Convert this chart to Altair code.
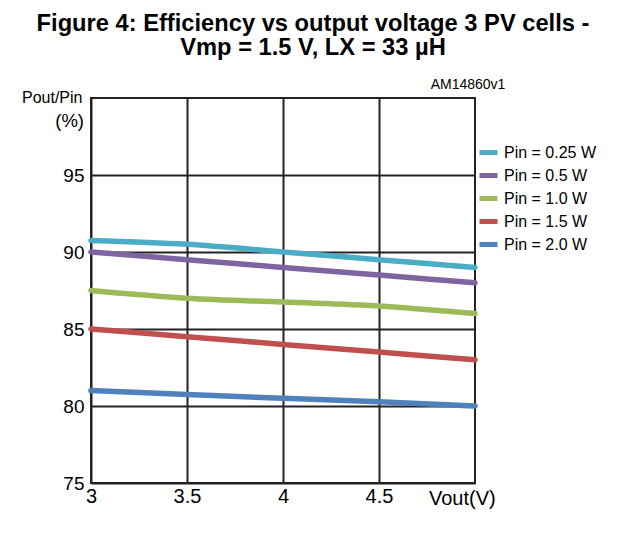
import altair as alt
import pandas as pd

# ---- data ----
vout = [3.0, 3.5, 4.0, 4.5, 5.0]
eff_025 = [90.75, 90.5, 90.0, 89.5, 89.0]
eff_05 = [90.0, 89.5, 89.0, 88.5, 88.0]
eff_10 = [87.5, 87.0, 86.75, 86.5, 86.0]
eff_15 = [85.0, 84.5, 84.0, 83.5, 83.0]
eff_20 = [81.0, 80.75, 80.5, 80.27, 80.0]

series_names = ["Pin = 0.25 W", "Pin = 0.5 W", "Pin = 1.0 W", "Pin = 1.5 W", "Pin = 2.0 W"]
series_colors = ["#4BACC6", "#8064A2", "#9BBB59", "#C0504D", "#4F81BD"]

y_ticks = [75, 80, 85, 90, 95]
x_ticks = [3, 3.5, 4, 4.5]

title_lines = ["Figure 4: Efficiency vs output voltage 3 PV cells -", "Vmp = 1.5 V, LX = 33 µH"]
code_label = "AM14860v1"
y_title_lines = ["Pout/Pin", "(%)"]
x_title = "Vout(V)"

FONT = "Liberation Sans"

rows = []
for name, vals in zip(series_names, [eff_025, eff_05, eff_10, eff_15, eff_20]):
    for x, y in zip(vout, vals):
        rows.append({"vout": x, "eff": y, "series": name})
df = pd.DataFrame(rows)

lines = alt.Chart(df).mark_line(
    strokeWidth=5.5, interpolate="monotone", strokeCap="round"
).encode(
    x=alt.X("vout:Q", scale=alt.Scale(domain=[3, 5], nice=False, zero=False),
            axis=alt.Axis(values=x_ticks, title=None, format="~g", grid=True,
                          domain=False, ticks=False, labelFontSize=20,
                          labelPadding=3, labelFont=FONT, labelColor="#000",
                          gridColor="#222", gridWidth=2, labelFlush=False)),
    y=alt.Y("eff:Q", scale=alt.Scale(domain=[75, 100], nice=False, zero=False),
            axis=alt.Axis(values=y_ticks, title=None, grid=True, domain=False,
                          ticks=False, labelFontSize=19, labelPadding=7,
                          labelFont=FONT, labelColor="#000",
                          gridColor="#222", gridWidth=2, labelFlush=False)),
    color=alt.Color("series:N",
                    scale=alt.Scale(domain=series_names, range=series_colors),
                    sort=series_names,
                    legend=alt.Legend(title=None, orient="none", legendX=386,
                                      legendY=43, symbolType="stroke",
                                      symbolStrokeWidth=5, symbolSize=324,
                                      labelFontSize=16, labelFont=FONT,
                                      labelColor="#000", rowPadding=1,
                                      labelOffset=4, padding=0)),
)

def text_layer(txt, x, y, size, weight="normal", align="left"):
    return alt.Chart(pd.DataFrame({"t": [txt]})).mark_text(
        font=FONT, fontSize=size, fontWeight=weight, align=align,
        baseline="alphabetic", color="#000"
    ).encode(text="t:N", x=alt.value(x), y=alt.value(y))

texts = [
    text_layer(title_lines[0], 222, -67, 23.7, "bold", "center"),
    text_layer(title_lines[1], 222, -43, 23.7, "bold", "center"),
    text_layer(code_label, 377, -9, 14, "normal", "center"),
    text_layer(y_title_lines[0], -69, 5, 16, "normal", "left"),
    text_layer(y_title_lines[1], -7, 29, 18.5, "normal", "right"),
    text_layer(x_title, 338, 407, 20, "normal", "left"),
]

chart = alt.layer(lines, *texts).properties(
    width=384, height=385, autosize="none",
    padding={"left": 83, "top": 90, "right": 133, "bottom": 47},
    background="white",
).configure_view(stroke="#222", strokeWidth=2)

chart.save("out.html", embed_options={"renderer": "svg", "actions": False})
